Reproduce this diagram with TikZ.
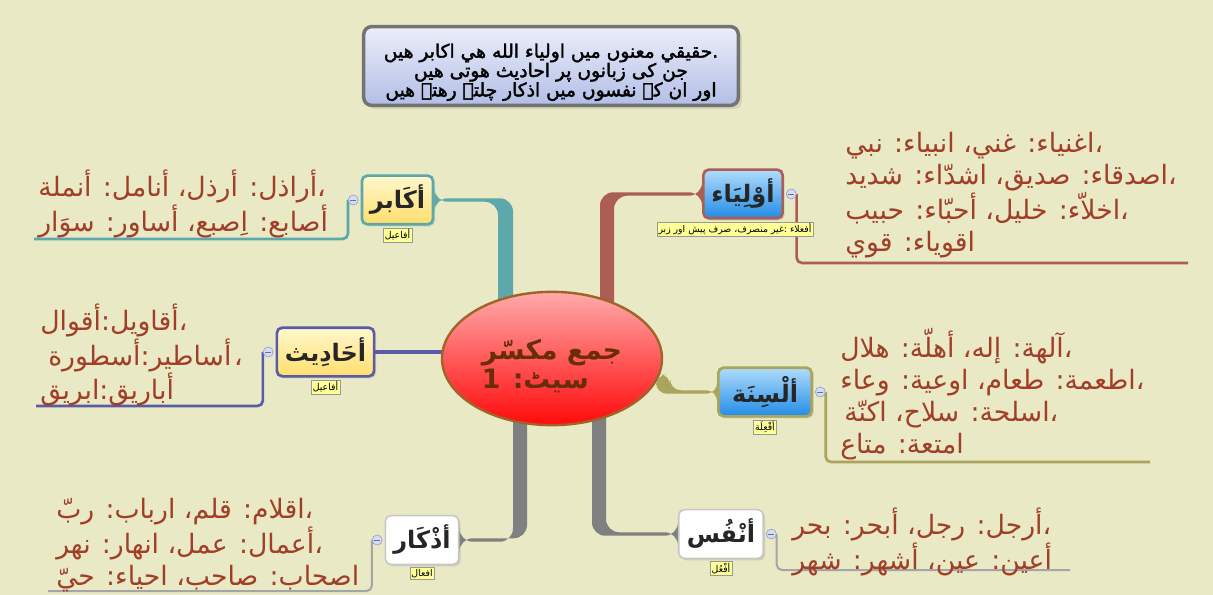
\documentclass[tikz,border=0pt]{standalone}
\usepackage{fontspec}
\usepackage{tikz}
\usetikzlibrary{shapes.geometric, positioning, calc, shadows}
\setmainfont{DejaVu Sans}
\newfontfamily\arabicfont[Script=Arabic]{DejaVu Sans}
\newfontfamily\titlefont[Script=Arabic, FakeBold=2]{DejaVu Sans}
\TeXXeTstate=1
\newcommand{\rtl}[1]{\beginR#1\endR}

\definecolor{bgc}{RGB}{233,233,197}
\definecolor{leaftxt}{RGB}{160,62,40}
\definecolor{cteal}{RGB}{92,168,170}
\definecolor{cred}{RGB}{172,94,86}
\definecolor{colive}{RGB}{170,164,92}
\definecolor{cblue}{RGB}{90,90,170}
\definecolor{cgrey}{RGB}{128,128,128}
\definecolor{cgreyl}{RGB}{165,165,165}
\definecolor{yeltop}{RGB}{255,248,205}
\definecolor{yelbot}{RGB}{255,222,110}
\definecolor{blutop}{RGB}{175,220,252}
\definecolor{blubot}{RGB}{35,140,230}
\definecolor{roottop}{RGB}{255,170,170}
\definecolor{rootbot}{RGB}{255,10,10}
\definecolor{rootline}{RGB}{160,100,40}
\definecolor{roottxt}{RGB}{105,45,10}
\definecolor{notefill}{RGB}{255,255,150}
\definecolor{btnfill}{RGB}{214,220,242}
\definecolor{btnline}{RGB}{150,160,210}
\definecolor{boxtop}{RGB}{236,238,250}
\definecolor{boxbot}{RGB}{178,190,230}

\pgfdeclarelayer{back}
\pgfdeclarelayer{branch}
\pgfsetlayers{back,branch,main}

\begin{document}
\begin{tikzpicture}[
        x=0.75pt, y=-0.75pt,
        root/.style={ellipse, draw=rootline, line width=1.8pt, minimum width=165pt, minimum height=100pt, inner sep=0pt, top color=roottop, bottom color=rootbot, align=left, text=roottxt, font=\arabicfont\bfseries\fontsize{20}{21.5}\selectfont},
        topic/.style={rounded corners=4pt, line width=2pt, minimum height=36.5pt, inner xsep=6pt, text=black!85, font=\arabicfont\bfseries\fontsize{18}{20}\selectfont, drop shadow={shadow xshift=1.5pt, shadow yshift=-1.5pt, opacity=0.25}},
        yellowtopic/.style={topic, top color=yeltop, bottom color=yelbot},
        bluetopic/.style={topic, top color=blutop, bottom color=blubot},
        whitetopic/.style={topic, draw=black!22, line width=1.2pt, fill=white},
        note/.style={draw=black!40, fill=notefill, inner sep=1.2pt, line width=0.4pt, font=\arabicfont\fontsize{7}{8}\selectfont},
        btn/.style={circle, draw=btnline, fill=btnfill, minimum size=7.5pt, inner sep=0pt, line width=0.5pt,
            path picture={\draw[btnline!70!black, line width=0.6pt] ([xshift=1.4pt]path picture bounding box.west) -- ([xshift=-1.4pt]path picture bounding box.east);}},
        leaf/.style={anchor=west, align=left, inner sep=0pt, text=leaftxt, font=\arabicfont\fontsize{20}{24}\selectfont},
        leafline/.style={line width=2pt, rounded corners=4pt}
    ]
        \begin{pgfonlayer}{back}
            \path[use as bounding box, fill=bgc] (0,0) rectangle (1213,595);
        \end{pgfonlayer}

        % Nodes
        \node[draw=black!55, line width=2.6pt, rounded corners=6pt, top color=boxtop, bottom color=boxbot, minimum width=281pt, minimum height=59pt, align=center, font=\titlefont\fontsize{14}{14.5}\selectfont, drop shadow={opacity=0.2}] (title) at (551,66)
            {\rule{0pt}{20pt}\rtl{حقيقي معنوں ميں اولياء الله هي اكابر هيں}.\\ \rtl{جن کی زبانوں پر احاديث هوتی هيں}\\ \rtl{اور ان کے نفسوں ميں اذکار چلتے رهتے هيں}};
        \node[root] (root) at (552,358.5) {\rule{0pt}{27pt}\rtl{جمع مكسّر}\\ \rtl{سیٹ: 1}};

        \node[yellowtopic, draw=cteal] (akabir) at (397.5,200) {\rtl{أكَابر}};
        \node[yellowtopic, draw=cblue] (hadith) at (325.5,352) {\rtl{أحَادِيث}};
        \node[whitetopic] (adhkar) at (422,540) {\rtl{أذْكَار}};
        \node[bluetopic, draw=cred] (awliya) at (743,194) {\rtl{أوْلِيَاء}};
        \node[bluetopic, draw=colive, minimum width=70pt] (alsina) at (765,392) {\rtl{ألْسِنَة}};
        \node[whitetopic] (anfus) at (721,534) {\rtl{أنْفُس}};

        \node[note, below=1.5pt of akabir] (akabirNote) {\rtl{أفاعيل}};
        \node[note, below=1.5pt of hadith] (hadithNote) {\rtl{أفاعيل}};
        \node[note, below=1.5pt of adhkar] (adhkarNote) {\rtl{افعال}};
        \node[note, below=1.5pt of awliya, xshift=-6pt] (awliyaNote) {\rtl{أفعلاء :غير منصرف، صرف پيش اور زبر}};
        \node[note, below=1.5pt of alsina] (alsinaNote) {\rtl{أفْعِلَة}};
        \node[note, below=1.5pt of anfus] (anfusNote) {\rtl{أفْعُل}};

        \node[btn, left=1.5pt of akabir] (akabirBtn) {};
        \node[btn, left=1.5pt of hadith] (hadithBtn) {};
        \node[btn, left=1.5pt of adhkar] (adhkarBtn) {};
        \node[btn, right=1.5pt of awliya] (awliyaBtn) {};
        \node[btn, right=1.5pt of alsina] (alsinaBtn) {};
        \node[btn, right=1.5pt of anfus] (anfusBtn) {};

        \node[leaf] (awliyaLeaf) at (845,195)
            {\rtl{اغنياء: غني، انبياء: نبي}،\\ \rtl{اصدقاء: صديق، اشدّاء: شديد}،\\ \rtl{اخلاّء: خليل، أحبّاء: حبيب}،\\ \rtl{اقوياء: قوي}};
        \node[leaf] (alsinaLeaf) at (840,394)
            {\rtl{آلهة: إله، أهلّة: هلال}،\\ \rtl{اطعمة: طعام، اوعية: وعاء}،\\ \hspace*{3pt}\rtl{اسلحة: سلاح، اكنّة}،\\ \rtl{امتعة: متاع}};
        \node[leaf] (anfusLeaf) at (792,542)
            {\rtl{أرجل: رجل، أبحر: بحر}،\\ \rtl{أعين: عين، أشهر: شهر}};
        \node[leaf] (akabirLeaf) at (38,204)
            {\rtl{أراذل: أرذل، أنامل: أنملة}،\\ \rtl{أصابع: اِصبع، أساور: سوَار}};
        \node[leaf] (hadithLeaf) at (40,355)
            {\rtl{أقاويل:أقوال}،\\ \hspace*{6pt}\rtl{أساطير:أسطورة}\hspace{2pt}،\\ \rtl{أباريق:ابريق}};
        \node[leaf] (adhkarLeaf) at (56,545)
            {\rtl{اقلام: قلم، ارباب: ربّ}،\\ \rtl{أعمال: عمل، انهار: نهر}،\\ \rtl{اصحاب: صاحب، احياء: حيّ}};

        \coordinate (awliyaEnd) at (1188,263);
        \coordinate (alsinaEnd) at (1150,462);
        \coordinate (anfusEnd) at (1070,570);
        \coordinate (akabirEnd) at (34,239);
        \coordinate (hadithEnd) at (36,406);
        \coordinate (adhkarEnd) at (48,591);

        % Edges
        \begin{pgfonlayer}{branch}
            \fill[cteal, rounded corners=10pt] ([yshift=1.3pt]akabir.east) -| ($(root.center)+(-39,0)$) -- ($(root.center)+(-54,0)$) |- ([yshift=-1.3pt]akabir.east) -- cycle;
            \fill[cred, rounded corners=10pt] ([yshift=1.3pt]awliya.west) -| ($(root.center)+(48,0)$) -- ($(root.center)+(62,0)$) |- ([yshift=-1.3pt]awliya.west) -- cycle;
            \fill[cgrey, rounded corners=10pt] ([yshift=-1.3pt]adhkar.east) -| ($(root.center)+(-39,0)$) -- ($(root.center)+(-25,0)$) |- ([yshift=1.3pt]adhkar.east) -- cycle;
            \fill[cgrey, rounded corners=10pt] ([yshift=-1.3pt]anfus.west) -| ($(root.center)+(40,0)$) -- ($(root.center)+(54,0)$) |- ([yshift=1.3pt]anfus.west) -- cycle;
            \fill[colive, rounded corners=8pt] ([yshift=-1.3pt]alsina.west) -| ($(root.east)+(-7,16)$) -- ($(root.east)+(7,16)$) |- ([yshift=1.3pt]alsina.west) -- cycle;
            \draw[cblue, line width=2.6pt] (hadith.east) -- (hadith.east -| root.center);

            \draw[leafline, cteal] (akabirBtn.west) |- (akabirEnd);
            \draw[leafline, cblue] (hadithBtn.west) |- (hadithEnd);
            \draw[leafline, cgreyl, line width=1.5pt] (adhkarBtn.west) |- (adhkarEnd);
            \draw[leafline, cred] (awliyaBtn.east) |- (awliyaEnd);
            \draw[leafline, colive] (alsinaBtn.east) |- (alsinaEnd);
            \draw[leafline, cgreyl, line width=1.5pt] (anfusBtn.east) |- (anfusEnd);
        \end{pgfonlayer}
    \end{tikzpicture}
\end{document}
